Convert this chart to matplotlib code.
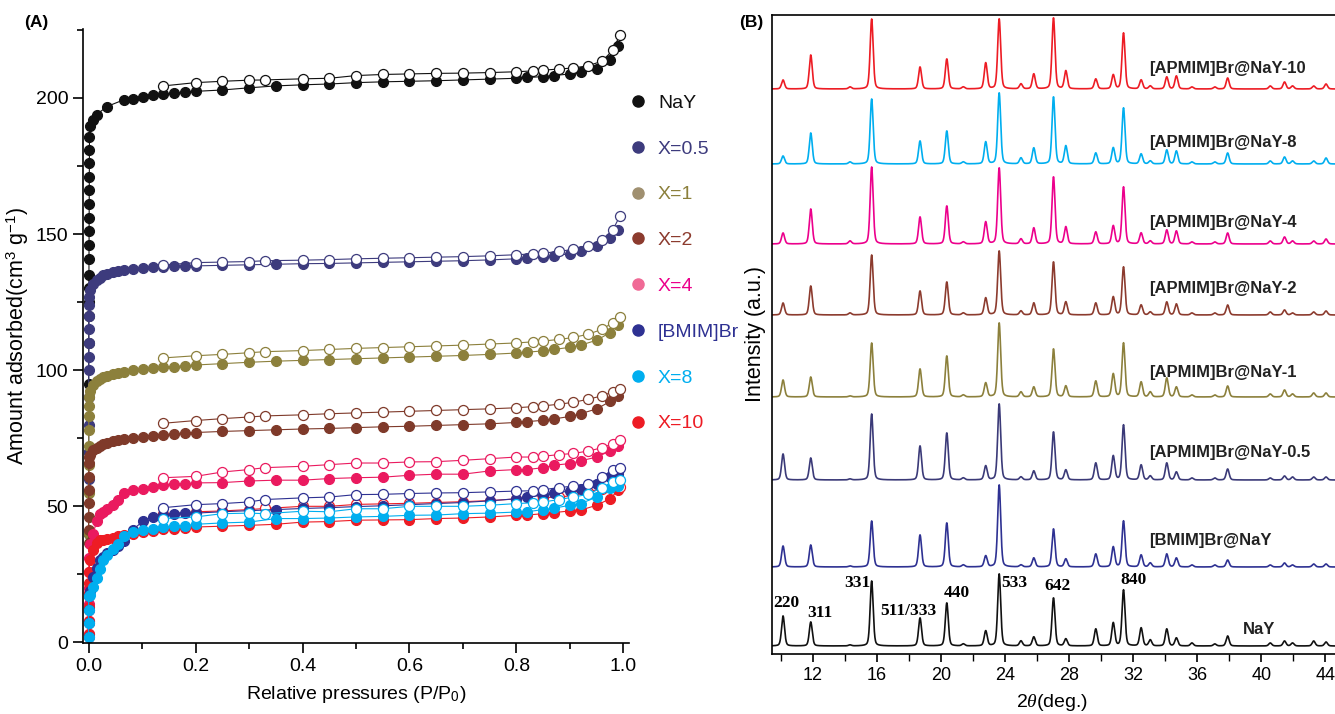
import numpy as np
import matplotlib.pyplot as plt
from matplotlib.lines import Line2D
from matplotlib.ticker import MultipleLocator

plt.rcParams['font.family'] = ['Liberation Sans', 'DejaVu Sans']
plt.rcParams['mathtext.fontset'] = 'custom'
plt.rcParams['mathtext.rm'] = 'Liberation Sans'
plt.rcParams['mathtext.it'] = 'Liberation Serif:italic'

# ---------------- (A) N2 adsorption isotherms ----------------
# pressure grids (P/P0)
P_COL = [0.0001, 0.0002, 0.0003, 0.0004, 0.0005, 0.0006, 0.0007, 0.0008, 0.0009,
         0.001, 0.0011, 0.0012, 0.0013, 0.0014, 0.0015, 0.0016, 0.0017, 0.0018]
P_KNEE = [0.003, 0.009, 0.015, 0.021, 0.028, 0.035, 0.046, 0.055, 0.066, 0.083, 0.102, 0.121]
P_HI = [0.14, 0.16, 0.18, 0.2, 0.25, 0.3, 0.35, 0.4, 0.45, 0.5, 0.55, 0.6, 0.65, 0.7,
        0.75, 0.8, 0.82, 0.85, 0.87, 0.9, 0.92, 0.95, 0.975, 0.99]
P_DES = [0.14, 0.2, 0.25, 0.3, 0.33, 0.4, 0.45, 0.5, 0.55, 0.6, 0.65, 0.7, 0.75, 0.8,
         0.83, 0.85, 0.88, 0.906, 0.934, 0.96, 0.98, 0.993]

# NaY
nay_col = [40, 70, 95, 110, 120, 125, 130, 135, 141, 146, 151, 156, 161, 166, 171, 176, 181, 185.7]
nay_knee_p = [0.003, 0.009, 0.015, 0.034, 0.066, 0.084, 0.102, 0.121]
nay_knee = [189.5, 192, 193.8, 196.8, 199.3, 199.6, 200.5, 200.9]
nay_hi = [201.4, 201.7, 202, 202.4, 202.9, 203.7, 204.4, 204.8, 205.1, 205.6, 205.9, 206.1,
          206.3, 206.6, 206.9, 207.2, 207.5, 207.8, 208.2, 208.8, 209.4, 210.5, 214, 219]
nay_des = [204.4, 205.6, 206.1, 206.5, 206.6, 207, 207.2, 208.2, 208.6, 208.8, 209, 209.1,
           209.3, 209.6, 209.9, 210.2, 210.6, 211, 211.8, 213.5, 217.5, 223]
# X=0.5
x05_col = [60, 70, 80, 90, 100, 105, 110, 115, 120, 124, 127]
x05_knee = [129.5, 131.5, 133, 134, 134.8, 135.4, 136, 136.4, 136.8, 137.2, 137.5, 137.8]
x05_hi = [138, 138.1, 138.2, 138.3, 138.5, 138.7, 138.9, 139.1, 139.2, 139.4, 139.6, 139.8,
          140, 140.2, 140.5, 140.9, 141.2, 141.6, 142, 142.8, 143.6, 145.5, 148.5, 151.5]
x05_des = [138.6, 139.5, 139.7, 139.9, 140.2, 140.4, 140.6, 140.9, 141.1, 141.3, 141.5, 141.7,
           142, 142.4, 142.7, 143, 143.6, 144.4, 145.6, 147.8, 151.5, 156.5]
# X=1
x1_col = [40, 55, 65, 72, 78, 83, 87, 90]
x1_knee = [92.5, 94.5, 96, 96.8, 97.5, 98, 98.6, 99, 99.4, 99.9, 100.3, 100.7]
x1_hi = [101, 101.3, 101.6, 101.9, 102.4, 102.9, 103.3, 103.6, 103.9, 104.2, 104.5, 104.8,
         105.1, 105.4, 105.8, 106.3, 106.6, 107.1, 107.6, 108.4, 109.2, 111, 113.8, 116.5]
x1_des = [104.5, 105.3, 105.8, 106.4, 106.8, 107.2, 107.6, 108, 108.3, 108.6, 108.9, 109.2,
          109.6, 110, 110.4, 110.7, 111.3, 112, 113.2, 115, 117.5, 119.5]
# X=2
x2_col = [36.4, 41.2, 46, 51.1, 55.9, 60.7, 65.8, 68]
x2_knee = [69, 70.5, 71.5, 72.2, 72.8, 73.3, 73.9, 74.3, 74.7, 75.2, 75.6, 76]
x2_hi = [76.3, 76.6, 76.9, 77.1, 77.5, 77.8, 78.1, 78.4, 78.6, 78.9, 79.2, 79.4,
         79.7, 80, 80.3, 80.8, 81.1, 81.6, 82.1, 83, 84, 85.8, 88.5, 90.5]
x2_des = [80.5, 81.5, 82.2, 82.8, 83.2, 83.6, 84, 84.3, 84.6, 84.9, 85.2, 85.5,
          85.8, 86.2, 86.6, 86.9, 87.5, 88.2, 89.3, 90.6, 92, 93]
# X=4
x4_col = [3, 8, 14, 20, 26, 31]
x4_knee = [36, 40, 44.5, 47, 48, 49, 50.4, 52.2, 54.9, 56.1, 56.5, 57.1]
x4_hi = [57.7, 58.1, 58.3, 58.6, 58.7, 59.3, 59.6, 59.6, 60.2, 60.5, 60.7, 61.4,
         61.8, 61.8, 63, 63.5, 63.5, 64.2, 65.1, 65.7, 66.7, 68.1, 70.3, 72]
x4_des = [60.5, 61, 62.6, 63.5, 64.2, 64.7, 65.3, 65.9, 65.9, 66.3, 66.4, 66.9,
          67.5, 68.1, 68.1, 68.4, 69, 69.4, 70.3, 71.5, 73, 74.5]
# X=10
x10_col = [3, 8, 13, 18, 22, 26]
x10_knee = [30.1, 33.8, 36.6, 37.5, 37.8, 38, 38.5, 39, 39.5, 40, 40.5, 41]
x10_hi = [41.5, 41.8, 42.1, 42.4, 42.7, 43, 43.4, 44.2, 44.4, 44.9, 45, 45.1,
          45.5, 45.7, 46.1, 46.7, 46.8, 47.3, 47.7, 48.3, 48.6, 50.4, 52.8, 55.9]
x10_des = [47, 48, 48.3, 48.8, 49.2, 50, 50, 50.7, 50.9, 51.1, 51.4, 51.7,
           52.1, 52.7, 53, 53.2, 53.4, 54, 55.3, 56.5, 57.5, 57]
# [BMIM]Br
bm_col = [2, 7, 12, 17]
bm_knee = [19, 24, 27.5, 30.1, 31.5, 32.8, 33.8, 35.5, 37.2, 41.4, 44.6, 46.1]
bm_hi = [46.7, 47.3, 47.7, 47.5, 48, 48.4, 48.8, 49.2, 49.5, 49.9, 50.2, 50.6,
         51, 51.4, 52, 52.8, 53.3, 54.2, 54.9, 55.6, 56.2, 58.3, 60.8, 62]
bm_des = [49.5, 50.6, 51, 51.6, 52.5, 53.1, 53.4, 54.3, 54.4, 54.7, 54.9, 55,
          55.3, 55.6, 55.7, 56.1, 56.9, 57.4, 58.3, 60.8, 63.5, 64.2]
# X=8
x8_col = [2, 7.1, 12, 16.9]
x8_knee = [17.5, 20.5, 23.5, 26.8, 30.1, 32, 34.4, 36.3, 39, 40.6, 41.2, 41.8]
x8_hi = [42.4, 42.6, 42.9, 43.4, 43.9, 44.2, 45.5, 45.5, 45.7, 46.1, 46.3, 46.7,
         46.8, 47.3, 47.5, 47.9, 48, 48.8, 49.3, 50.4, 51, 53.4, 56.9, 57.5]
x8_des = [45.5, 46.1, 47.3, 47.5, 47.3, 48.2, 48, 49.1, 49.1, 50, 50, 50,
          50.4, 51, 51.3, 51.6, 52.5, 53.4, 54.4, 56.9, 58.8, 59.6]

iso_series = [
    ('NaY', '#111111', nay_col, nay_knee_p, nay_knee, nay_hi, nay_des),
    ('X=0.5', '#3d3b7d', x05_col, P_KNEE, x05_knee, x05_hi, x05_des),
    ('X=1', '#8c803c', x1_col, P_KNEE, x1_knee, x1_hi, x1_des),
    ('X=2', '#7f3a2a', x2_col, P_KNEE, x2_knee, x2_hi, x2_des),
    ('X=4', '#ea1a5f', x4_col, P_KNEE, x4_knee, x4_hi, x4_des),
    ('X=10', '#ed1c24', x10_col, P_KNEE, x10_knee, x10_hi, x10_des),
    ('[BMIM]Br', '#2e3192', bm_col, P_KNEE, bm_knee, bm_hi, bm_des),
    ('X=8', '#00aeef', x8_col, P_KNEE, x8_knee, x8_hi, x8_des),
]

legend_labels = ['NaY', 'X=0.5', 'X=1', 'X=2', 'X=4', '[BMIM]Br', 'X=8', 'X=10']
legend_marker_colors = ['#111111', '#3d3b7d', '#a09070', '#8c3b2e', '#f06a96', '#2e3192', '#00aeef', '#ed1c24']
legend_text_colors = ['#111111', '#3d3b7d', '#8c803c', '#8c3b2e', '#ec008c', '#2e3192', '#00aeef', '#ed1c24']

# ---------------- (B) XRD patterns ----------------
PEAKS = [10.15, 11.88, 14.33, 15.68, 18.7, 20.37, 21.4, 22.8, 23.64, 25.0, 25.8, 27.03, 27.8, 29.67,
         30.76, 31.4, 32.5, 33.07, 34.1, 34.7, 35.67, 37.1, 37.9, 40.56, 41.45, 41.95, 43.27, 44.04]
xrd_nay = [30, 24, 1, 65, 28, 43, 2, 15, 72, 5, 9, 48, 7, 17, 23, 56, 18, 6, 17, 8, 3, 2, 10, 3, 5, 3, 5, 4]
xrd_bmim = [21, 22, 1, 46, 32, 44, 2, 11, 82, 2, 9, 38, 8, 13, 20, 46, 12, 4, 13, 9, 2, 2, 7, 2, 4, 2, 3, 3]
xrd_a05 = [26, 22, 1, 66, 34, 47, 2, 14, 76, 3, 9, 48, 10, 17, 24, 55, 15, 4, 17, 8, 2, 2, 11, 2, 4, 3, 3, 3]
xrd_a1 = [17, 20, 1, 54, 28, 41, 2, 14, 74, 5, 10, 48, 11, 16, 23, 54, 15, 5, 19, 10, 2, 2, 11, 3, 7, 3, 4, 4]
xrd_a2 = [12, 29, 2, 60, 24, 33, 2, 17, 64, 4, 12, 53, 13, 12, 18, 48, 10, 3, 13, 11, 2, 2, 10, 3, 5, 2, 3, 4]
xrd_a4 = [11, 35, 3, 77, 27, 38, 2, 22, 76, 5, 16, 67, 17, 12, 18, 57, 11, 3, 14, 13, 2, 2, 11, 3, 7, 3, 3, 5]
xrd_a8 = [8, 31, 2, 65, 23, 33, 2, 22, 71, 6, 16, 67, 18, 11, 16, 56, 10, 3, 14, 13, 2, 2, 11, 3, 7, 3, 3, 6]
xrd_a10 = [9, 34, 2, 70, 22, 30, 2, 26, 70, 5, 15, 71, 18, 10, 14, 56, 9, 3, 12, 13, 2, 2, 11, 3, 7, 3, 3, 5]

xrd_sets = [xrd_nay, xrd_bmim, xrd_a05, xrd_a1, xrd_a2, xrd_a4, xrd_a8, xrd_a10]
xrd_names = ['NaY', '[BMIM]Br@NaY', '[APMIM]Br@NaY-0.5', '[APMIM]Br@NaY-1', '[APMIM]Br@NaY-2',
             '[APMIM]Br@NaY-4', '[APMIM]Br@NaY-8', '[APMIM]Br@NaY-10']
xrd_colors = ['#111111', '#2e3192', '#3b3a78', '#8c803c', '#8c3b2e', '#ec008c', '#00aeef', '#ed1c24']
hkl = ['220', '311', '331', '511/333', '440', '533', '642', '840']

# ---------------- figure ----------------
fig = plt.figure(figsize=(13.35, 7.14), dpi=100)
ax1 = fig.add_axes([83 / 1335, 71 / 714, 546 / 1335, 614 / 714])
ax2 = fig.add_axes([772 / 1335, 60 / 714, 563 / 1335, 639 / 714])

for name, c, col, kp, kv, hv, dv in iso_series:
    ads_p = P_COL[:len(col)] + list(kp) + P_HI
    ads_v = col + kv + hv
    ax1.plot(ads_p, ads_v, '-o', color=c, lw=0.8, ms=7.2, mfc=c, mec=c, mew=0.8, clip_on=False)
    ax1.plot(P_DES, dv, '-o', color=c, lw=0.8, ms=7.2, mfc='white', mec=c, mew=0.9, clip_on=False)

ax1.set_xlim(-0.0103, 1.0103)
ax1.set_ylim(-0.2, 225.3)
ax1.spines['top'].set_visible(False)
ax1.spines['right'].set_visible(False)
for s in ['left', 'bottom']:
    ax1.spines[s].set_linewidth(1.2)
ax1.xaxis.set_major_locator(MultipleLocator(0.2))
ax1.xaxis.set_minor_locator(MultipleLocator(0.1))
ax1.yaxis.set_major_locator(MultipleLocator(50))
ax1.yaxis.set_minor_locator(MultipleLocator(25))
ax1.set_yticks([0, 50, 100, 150, 200])
ax1.tick_params(which='major', direction='out', length=7, width=1.2, labelsize=14)
ax1.tick_params(which='minor', direction='out', length=4, width=1.2)
ax1.xaxis.set_major_formatter(plt.FuncFormatter(lambda v, p: f'{v:.1f}'))
ax1.set_xlabel('Relative pressures (P/P$_0$)', fontsize=14)
ax1.set_ylabel('Amount adsorbed(cm$^3$ g$^{-1}$)', fontsize=15.5)
ax1.xaxis.set_label_coords(0.5, -0.066)
ax1.yaxis.set_label_coords(-0.095, 0.5)

handles = [Line2D([], [], ls='none', marker='o', ms=8, mfc=c, mec=c) for c in legend_marker_colors]
ax1.legend(handles, legend_labels, loc='upper left', bbox_to_anchor=(0.998, 0.894),
           frameon=False, fontsize=14, labelcolor=legend_text_colors, handlelength=1.0,
           handletextpad=0.55, labelspacing=1.45, borderpad=0, borderaxespad=0)

# XRD
tt = np.linspace(9.46, 44.6, 4000)
w, eta = 0.22, 0.3
offsets = [8, 87, 174, 257, 339, 410, 490, 565]
for heights, off, c in zip(xrd_sets, offsets, xrd_colors):
    y = np.full_like(tt, off, dtype=float)
    for pos, h in zip(PEAKS, heights):
        d = (tt - pos) / w
        y += h * ((1 - eta) * np.exp(-4 * np.log(2) * d ** 2) + eta / (1 + 4 * d ** 2))
    ax2.plot(tt, y, color=c, lw=1.2)

label_y = [24, 114, 201, 281, 366, 432, 511, 586]
for name, ly, i in zip(xrd_names, label_y, range(8)):
    x0 = 38.82 if i == 0 else 32.97
    ax2.text(x0, ly, name, fontsize=12, fontweight='bold', va='center', ha='left', color='#222222')

hkl_x = [10.33, 12.46, 14.77, 17.95, 21.0, 24.6, 27.26, 32.0]
hkl_y = [51, 41, 71, 43, 61, 71, 68, 74]
for lab, hx, hy in zip(hkl, hkl_x, hkl_y):
    ax2.text(hx, hy, lab, fontsize=12.5, fontweight='bold', family='Liberation Serif',
             ha='center', va='center')

ax2.set_xlim(9.46, 44.6)
ax2.set_ylim(0, 639)
ax2.spines['right'].set_visible(False)
for s in ['left', 'bottom', 'top']:
    ax2.spines[s].set_linewidth(1.2)
ax2.set_yticks([])
ax2.xaxis.set_major_locator(MultipleLocator(4))
ax2.xaxis.set_minor_locator(MultipleLocator(2))
ax2.tick_params(which='major', direction='out', length=6, width=1.2, labelsize=13)
ax2.tick_params(which='minor', direction='out', length=5, width=1.0)
ax2.set_xlabel(r'$2\theta$(deg.)', fontsize=14)
ax2.set_ylabel('Intensity (a.u.)', fontsize=15.5)
ax2.xaxis.set_label_coords(0.497, -0.06)
ax2.yaxis.set_label_coords(-0.01, 0.5)

fig.text(24 / 1335, 1 - 22 / 714, '(A)', fontsize=12.5, fontweight='bold', va='center')
fig.text(739 / 1335, 1 - 22 / 714, '(B)', fontsize=12.5, fontweight='bold', va='center')

fig.savefig('out.png', dpi=100)
